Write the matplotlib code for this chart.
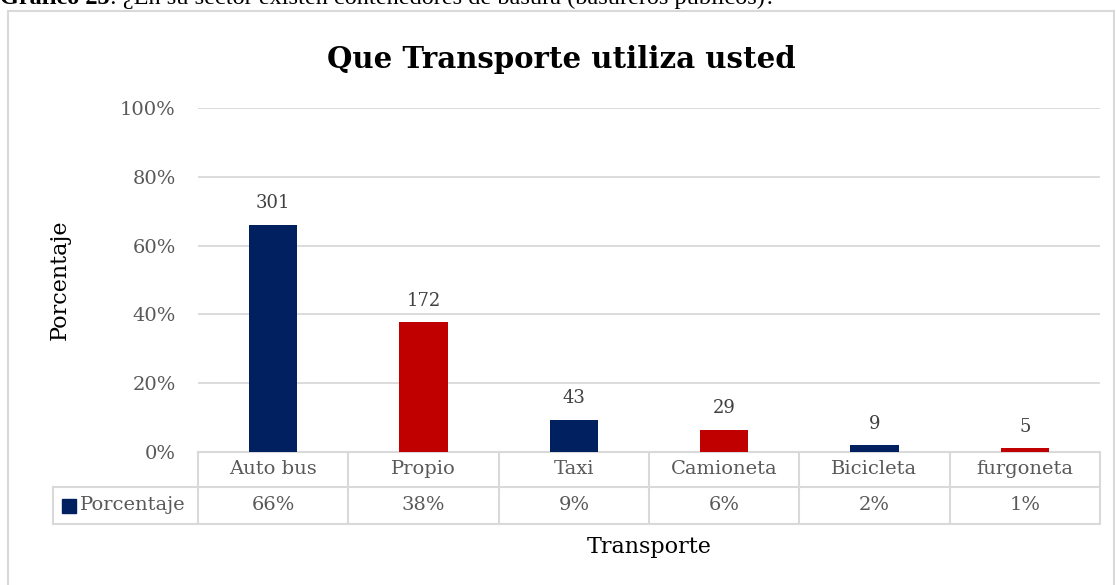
import matplotlib.pyplot as plt
from matplotlib.patches import Rectangle
from matplotlib.lines import Line2D
import matplotlib.transforms as mtransforms

# data
categories = ['Auto bus', 'Propio', 'Taxi', 'Camioneta', 'Bicicleta', 'furgoneta']
counts = [301, 172, 43, 29, 9, 5]
porcentaje = [0.66, 0.377, 0.094, 0.064, 0.02, 0.011]
pct_labels = ['66%', '38%', '9%', '6%', '2%', '1%']
yticks = [0, 0.2, 0.4, 0.6, 0.8, 1.0]
ytick_labels = ['0%', '20%', '40%', '60%', '80%', '100%']

BLUE = '#002060'
RED = '#C00000'
GRID = '#D9D9D9'
GREY_TXT = '#595959'
bar_colors = [BLUE, RED, BLUE, RED, BLUE, RED]

W, H = 1116, 585
fig = plt.figure(figsize=(W / 100, H / 100), dpi=100)
serif = ['DejaVu Serif']

def fx(px):
    return px / W

def fy(py):
    return 1 - py / H

# outer chart frame
fig.patches.append(Rectangle((fx(8), fy(600)), fx(1106), fy(11) - fy(600),
                             transform=fig.transFigure, fill=False,
                             edgecolor=GRID, linewidth=1.5))

# caption above the chart (cut off at the top, as in the original page)
t1 = fig.text(0.0, fy(4), 'Gráfico 25', family='Liberation Serif',
              fontweight='bold', fontsize=17.5, va='baseline', ha='left')
fig.canvas.draw()
bb = t1.get_window_extent()
fig.text(bb.x1 / W, fy(4), ': ¿En su sector existen contenedores de basura (basureros públicos)?',
         family='Liberation Serif', fontsize=17.5, va='baseline', ha='left')

left, right, top, bottom = 198, 1100, 108, 452
ax = fig.add_axes([fx(left), fy(bottom), fx(right - left), fy(top) - fy(bottom)])
x = list(range(len(categories)))
ax.bar(x, porcentaje, width=0.32, color=bar_colors, zorder=3)
for xi, v, c in zip(x, porcentaje, counts):
    ax.annotate(str(c), (xi, v), xytext=(0, 9), textcoords='offset points',
                ha='center', va='bottom', fontsize=13, color='#404040', family=serif)

ax.set_xlim(-0.5, len(categories) - 0.5)
ax.set_ylim(0, 1.0)
ax.set_yticks(yticks)
ax.set_yticklabels(ytick_labels, fontsize=14, color=GREY_TXT, family=serif)
ax.set_xticks([])
ax.tick_params(axis='y', length=0, pad=16)
ax.yaxis.grid(True, color=GRID, linewidth=1.3, zorder=0)
for s in ax.spines.values():
    s.set_visible(False)

ax.set_title('Que Transporte utiliza usted', fontsize=21, fontweight='bold',
             family=serif, pad=29, x=(561 - left) / (right - left))

# data table below the axis
tr = mtransforms.blended_transform_factory(ax.transData, ax.transAxes)
h = bottom - top
r0 = 0.0
r1 = -(487 - bottom) / h
r2 = -(524 - bottom) / h
col_w = (right - left) / len(categories)
leg_left = -0.5 - (left - 53) / col_w
lkw = dict(transform=tr, color=GRID, linewidth=1.5, clip_on=False)
ax.add_line(Line2D([-0.5, 5.5], [r0, r0], **lkw))
ax.add_line(Line2D([leg_left, 5.5], [r1, r1], **lkw))
ax.add_line(Line2D([leg_left, 5.5], [r2, r2], **lkw))
ax.add_line(Line2D([leg_left, leg_left], [r1, r2], **lkw))
for i in range(len(categories) + 1):
    ax.add_line(Line2D([i - 0.5, i - 0.5], [r0, r2], **lkw))
for xi, cat, lab in zip(x, categories, pct_labels):
    ax.text(xi, (r0 + r1) / 2, cat, transform=tr, ha='center', va='center',
            fontsize=14, color=GREY_TXT, family=serif)
    ax.text(xi, (r1 + r2) / 2, lab, transform=tr, ha='center', va='center',
            fontsize=14, color=GREY_TXT, family=serif)

# legend key in the table
sq = 14 / col_w
ax.add_patch(Rectangle((leg_left + 9 / col_w, (r1 + r2) / 2 - 7 / h), sq, 14 / h,
                       transform=tr, color=BLUE, clip_on=False))
ax.text(leg_left + 27 / col_w, (r1 + r2) / 2, 'Porcentaje', transform=tr,
        ha='left', va='center', fontsize=14, color=GREY_TXT, family=serif)

fig.text(fx(649), fy(547), 'Transporte', ha='center', va='center',
         fontsize=16, family=serif)
fig.text(fx(60), fy(280), 'Porcentaje', ha='center', va='center',
         rotation=90, fontsize=16, family=serif)

fig.savefig('out.png', dpi=100)
